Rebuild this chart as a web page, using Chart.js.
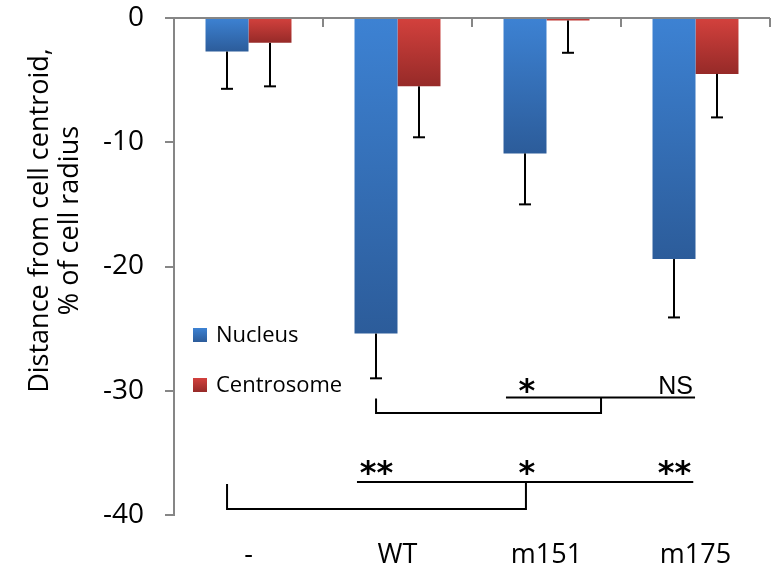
<!DOCTYPE html>
<html><head><meta charset="utf-8">
<script src="https://cdn.jsdelivr.net/npm/chart.js@4.4.1/dist/chart.umd.min.js"></script>
<style>html,body{margin:0;padding:0;background:#fff;}</style>
</head><body>
<canvas id="c" width="778" height="569"></canvas>
<script>
// ---- data ----
const categories = ['-', 'WT', 'm151', 'm175'];
const seriesNames = ['Nucleus', 'Centrosome'];
const nucleus = [-2.7, -25.4, -10.9, -19.4];
const nucleusErr = [3.0, 3.6, 4.1, 4.7];
const centrosome = [-2.0, -5.5, -0.2, -4.5];
const centrosomeErr = [3.5, 4.1, 2.6, 3.5];
const yTicks = [0, -10, -20, -30, -40];
const yTitle = ['Distance from cell centroid,', '% of cell radius'];
const sigUpper = ['*', 'NS'];
const sigLower = ['**', '*', '**'];

// ---- styling / annotation geometry (in category-index / value units) ----
const COL = {blueTop:'#3d82d3', blueBot:'#2c5c9a', redTop:'#d3413d', redBot:'#962a28', axis:'#868686'};
const ann = {
  lines: [
    [[1.728,-30.54],[2.997,-30.54]],
    [[0.856,-30.62],[0.856,-31.8],[2.366,-31.8],[2.366,-30.54]],
    [[0.728,-37.34],[2.985,-37.34]],
    [[-0.144,-37.5],[-0.144,-39.52],[1.862,-39.52],[1.862,-37.34]]
  ],
  upperPos: {xs:[1.869, 2.866], y:-29.54},
  lowerPos: {xs:[0.859, 1.869, 2.859], y:-36.14}
};

function grad(ctx, c0, c1) {
  const chart = ctx.chart;
  const ys = chart.scales && chart.scales.y;
  if (!ys || ctx.type !== 'data' || !chart.chartArea) return c0;
  const y0 = ys.getPixelForValue(0), y1 = ys.getPixelForValue(ctx.raw);
  if (Math.abs(y1 - y0) < 4) return '#bf3a36';
  const g = chart.ctx.createLinearGradient(0, y0, 0, y1);
  g.addColorStop(0, c0); g.addColorStop(1, c1);
  return g;
}

function seg(ctx, pts) {
  ctx.beginPath();
  pts.forEach((p, i) => i ? ctx.lineTo(p[0], p[1]) : ctx.moveTo(p[0], p[1]));
  ctx.stroke();
}
function centerText(ctx, t, cx, cy) {
  const m = ctx.measureText(t);
  ctx.textAlign = 'center'; ctx.textBaseline = 'alphabetic';
  ctx.fillText(t, cx, cy + (m.actualBoundingBoxAscent - m.actualBoundingBoxDescent) / 2);
}

const overlay = {
  id: 'overlay',
  afterDatasetsDraw(chart) {
    const {ctx, chartArea: a, scales: {x, y}} = chart;
    ctx.save();
    // error bars (negative direction only)
    [[0, nucleusErr], [1, centrosomeErr]].forEach(([di, errs]) => {
      const meta = chart.getDatasetMeta(di);
      const vals = chart.data.datasets[di].data;
      meta.data.forEach((bar, i) => {
        const yb = y.getPixelForValue(vals[i]);
        const ye = y.getPixelForValue(vals[i] - errs[i]);
        ctx.strokeStyle = '#000'; ctx.lineWidth = 2;
        seg(ctx, [[bar.x, yb], [bar.x, ye]]);
        seg(ctx, [[bar.x - 6, ye], [bar.x + 6, ye]]);
      });
    });
    // horizontal axis line at value 0 with category tick marks
    const y0 = y.getPixelForValue(0);
    ctx.strokeStyle = COL.axis; ctx.lineWidth = 2;
    seg(ctx, [[a.left, y0], [a.right, y0]]);
    for (let i = 0; i < categories.length; i++) {
      const xt = Math.round(x.getPixelForValue(i + 0.5));
      seg(ctx, [[xt, y0], [xt, y0 + 9]]);
    }
    // significance brackets
    ctx.strokeStyle = '#000'; ctx.lineWidth = 2;
    ann.lines.forEach(l => seg(ctx, l.map(p => [x.getPixelForValue(p[0]), y.getPixelForValue(p[1])])));
    ctx.fillStyle = '#000';
    const starFont = 'bold 32px "DejaVu Sans"';
    const nsFont = '25px "Liberation Sans"';
    sigUpper.forEach((t, i) => {
      ctx.font = t === 'NS' ? nsFont : starFont;
      centerText(ctx, t, x.getPixelForValue(ann.upperPos.xs[i]), y.getPixelForValue(ann.upperPos.y));
    });
    ctx.font = starFont;
    sigLower.forEach((t, i) => {
      centerText(ctx, t, x.getPixelForValue(ann.lowerPos.xs[i]), y.getPixelForValue(ann.lowerPos.y));
    });
    // legend
    const lx = a.left + 19, ly = [a.top + 317, a.top + 367];
    ctx.font = '22px "Open Sans"';
    ctx.textAlign = 'left'; ctx.textBaseline = 'middle';
    [[COL.blueTop, COL.blueBot], [COL.redTop, COL.redBot]].forEach((c, i) => {
      const g = ctx.createLinearGradient(0, ly[i] - 7, 0, ly[i] + 7);
      g.addColorStop(0, c[0]); g.addColorStop(1, c[1]);
      ctx.fillStyle = g;
      ctx.fillRect(lx, ly[i] - 7, 14, 14);
      ctx.fillStyle = '#000';
      ctx.fillText(seriesNames[i], lx + 23, ly[i] + 1);
    });
    // y axis title (rotated, two lines)
    ctx.font = '27px "Open Sans"';
    ctx.textAlign = 'center'; ctx.textBaseline = 'alphabetic';
    const cy = y.getPixelForValue(-16.3);
    [48, 78].forEach((bx, i) => {
      ctx.save(); ctx.translate(bx, cy); ctx.rotate(-Math.PI / 2);
      ctx.fillText(yTitle[i], 0, 0);
      ctx.restore();
    });
    ctx.restore();
  }
};

new Chart(document.getElementById('c'), {
  type: 'bar',
  data: {
    labels: categories,
    datasets: [
      {label: seriesNames[0], data: nucleus, backgroundColor: c => grad(c, COL.blueTop, COL.blueBot)},
      {label: seriesNames[1], data: centrosome, backgroundColor: c => grad(c, COL.redTop, COL.redBot)}
    ]
  },
  options: {
    responsive: false, animation: false,
    layout: {padding: {top: 18, right: 8, left: 0, bottom: 0}},
    datasets: {bar: {categoryPercentage: 0.577, barPercentage: 1.0, borderWidth: 0}},
    plugins: {legend: {display: false}, tooltip: {enabled: false}},
    scales: {
      x: {
        offset: true,
        grid: {display: false, drawTicks: false},
        border: {display: false},
        ticks: {font: {family: 'Open Sans', size: 27}, color: '#000', padding: 24},
        afterFit: s => { s.height = 54; s.paddingLeft = 0; s.paddingRight = 0; }
      },
      y: {
        min: -40, max: 0,
        afterBuildTicks: s => { s.ticks = yTicks.map(v => ({value: v})); },
        border: {display: true, color: COL.axis, width: 2},
        grid: {drawOnChartArea: false, drawTicks: true, tickLength: 9, color: COL.axis, lineWidth: 2},
        ticks: {font: {family: 'Open Sans', size: 28}, color: '#000', padding: 21},
        afterFit: s => { s.width = 174; s.paddingTop = 0; s.paddingBottom = 0; }
      }
    }
  },
  plugins: [overlay]
});
</script>
</body></html>
